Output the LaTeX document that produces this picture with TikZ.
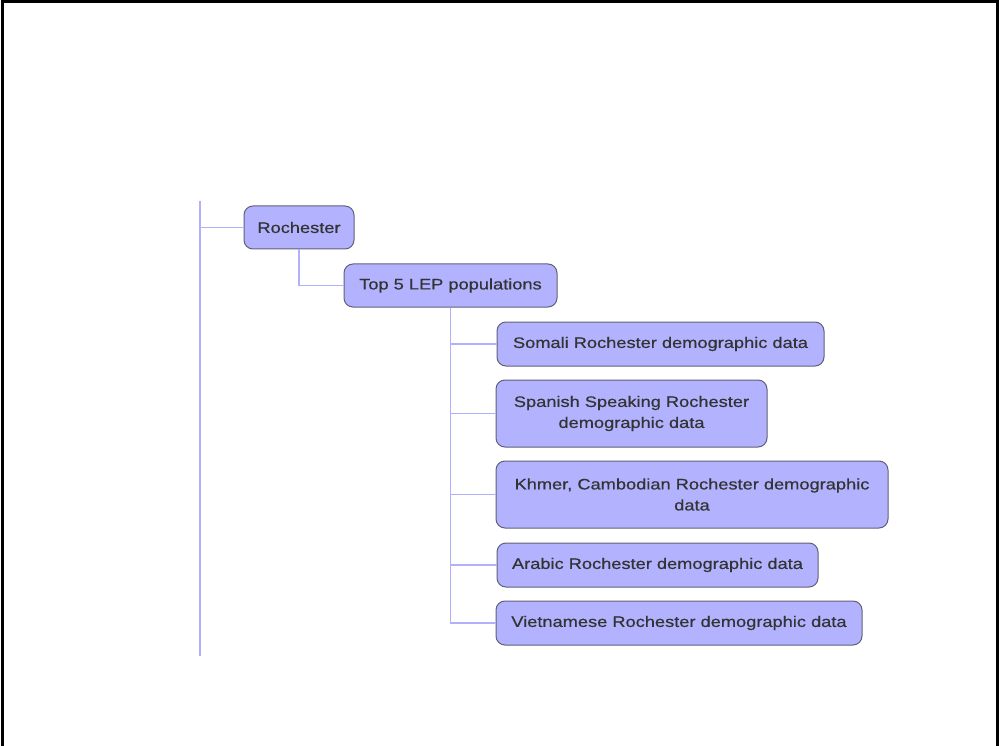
\documentclass[tikz,border=0pt]{standalone}
\usepackage{fontspec}
\setmainfont{Liberation Sans}[FakeStretch=1.2,FakeBold=0.5]
\definecolor{nodefill}{RGB}{178,178,255}
\definecolor{nodeedge}{RGB}{96,96,120}
\definecolor{linkcol}{RGB}{176,176,252}
\begin{document}
\begin{tikzpicture}[x=1pt,y=-1pt,
  topic/.style={draw=nodeedge, fill=nodefill, rounded corners=9pt, line width=1pt,
    inner sep=0pt, align=center, text=black!80,
    font=\fontsize{15.2}{21}\selectfont},
  link/.style={draw=linkcol, line width=1.1pt}]
\useasboundingbox (0,0) rectangle (999,746);
% page frame, open at the bottom
\draw[line width=3pt] (2,746) -- (2,2) -- (997,2) -- (997,746);

% topics
\node[topic, minimum width=110pt, minimum height=43pt] (roc) at (299,227.5) {Rochester};
\node[topic, minimum width=213pt, minimum height=43pt] (top) at (450.5,285.5) {Top 5 LEP populations};
\node[topic, minimum width=327pt, minimum height=44pt] (som) at (660.5,344) {Somali Rochester demographic data};
\node[topic, minimum width=271pt, minimum height=67pt] (spa) at (631.5,413.5) {Spanish Speaking Rochester\\demographic data};
\node[topic, minimum width=392pt, minimum height=67pt] (khm) at (692,494.5) {Khmer, Cambodian Rochester demographic\\data};
\node[topic, minimum width=321pt, minimum height=44pt] (ara) at (657.5,565) {Arabic Rochester demographic data};
\node[topic, minimum width=366pt, minimum height=44pt] (vie) at (679,623) {Vietnamese Rochester demographic data};

% left rail
\coordinate (railtop) at (200,201);
\coordinate (railbot) at (200,656);
\draw[link] (railtop) -- (railbot);
\draw[link] (roc.west -| railtop) -- (roc.west);

% connectors
\draw[link] (roc.south) |- (top.west);
\foreach \c in {som,spa,khm,ara,vie}
  \draw[link] (top.south) |- (\c.west);
\end{tikzpicture}
\end{document}
